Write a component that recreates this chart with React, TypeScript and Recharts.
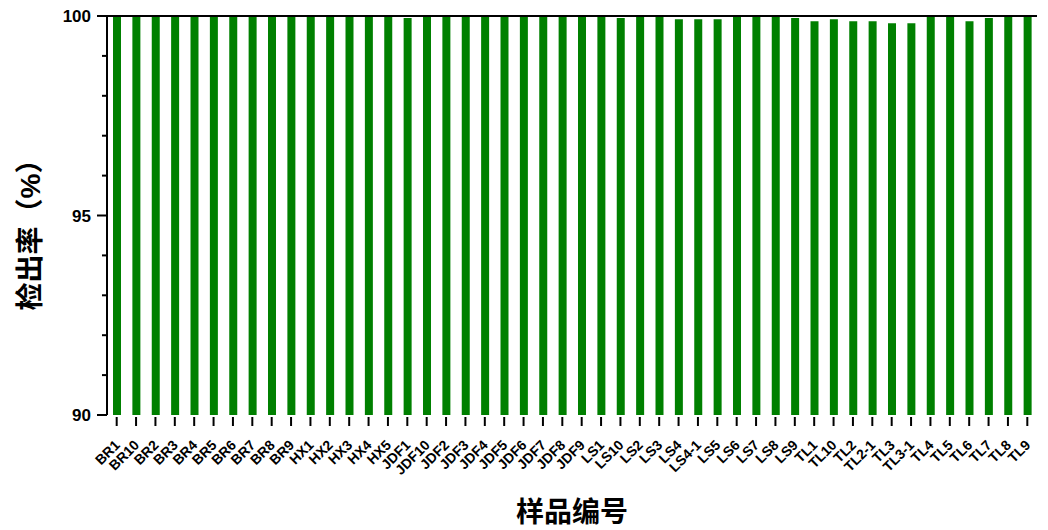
import React from 'react';
import { BarChart, Bar, XAxis, YAxis, ReferenceLine } from 'recharts';

const samples = [
  'BR1', 'BR10', 'BR2', 'BR3', 'BR4', 'BR5', 'BR6', 'BR7', 'BR8', 'BR9',
  'HX1', 'HX2', 'HX3', 'HX4', 'HX5',
  'JDF1', 'JDF10', 'JDF2', 'JDF3', 'JDF4', 'JDF5', 'JDF6', 'JDF7', 'JDF8', 'JDF9',
  'LS1', 'LS10', 'LS2', 'LS3', 'LS4', 'LS4-1', 'LS5', 'LS6', 'LS7', 'LS8', 'LS9',
  'TL1', 'TL10', 'TL2', 'TL2-1', 'TL3', 'TL3-1', 'TL4', 'TL5', 'TL6', 'TL7', 'TL8', 'TL9',
];

const detectionRate = [
  100, 100, 100, 100, 100, 100, 100, 100, 100, 100,
  100, 100, 100, 100, 100,
  99.95, 100, 100, 100, 100, 100, 100, 100, 100, 100,
  100, 99.95, 100, 100, 99.92, 99.92, 99.92, 100, 100, 100, 99.95,
  99.87, 99.92, 99.87, 99.87, 99.82, 99.82, 100, 100, 99.87, 99.95, 100, 100,
];

const yTicks = [90, 91, 92, 93, 94, 95, 96, 97, 98, 99, 100];
const yLabelTicks = [90, 95, 100];

const data = samples.map((name, i) => ({ name, rate: detectionRate[i] }));

const FONT = '"Liberation Sans", Arial, "Noto Sans CJK SC", sans-serif';

const XTick = (props: any) => {
  const { x, y, payload } = props;
  return (
    <g>
      <line x1={x} x2={x} y1={y + 2} y2={y + 11} stroke="#000" strokeWidth={2} />
      <text
        x={x + 4}
        y={y + 31}
        textAnchor="end"
        transform={`rotate(-45, ${x + 4}, ${y + 31})`}
        fontSize={14}
        fontWeight="bold"
        fontFamily={FONT}
        fill="#000"
      >
        {payload.value}
      </text>
    </g>
  );
};

const YTick = (props: any) => {
  const { x, y, payload } = props;
  const major = yLabelTicks.includes(payload.value);
  return (
    <g>
      <line x1={x} x2={x - (major ? 10 : 5)} y1={y} y2={y} stroke="#000" strokeWidth={2} />
      {major && (
        <text
          x={x - 16}
          y={y}
          dy="0.36em"
          textAnchor="end"
          fontSize={17}
          fontWeight="bold"
          fontFamily={FONT}
          fill="#000"
        >
          {payload.value}
        </text>
      )}
    </g>
  );
};

export default function App() {
  return (
    <div style={{ position: 'absolute', left: 0, top: 0, width: 1048, height: 530, background: '#fff' }}>
      <BarChart
        width={1048}
        height={530}
        data={data}
        margin={{ top: 16, right: 11, left: 47, bottom: 0 }}
        barCategoryGap={0}
      >
        <XAxis
          dataKey="name"
          interval={0}
          height={115}
          axisLine={false}
          tickLine={false}
          tickSize={0}
          tickMargin={0}
          tick={<XTick />}
          label={() => (
            <text x={572} y={522} textAnchor="middle" fontSize={28} fontWeight="bold" fontFamily={FONT} fill="#000">
              样品编号
            </text>
          )}
        />
        <YAxis
          yAxisId="left"
          width={60}
          domain={[90, 100]}
          ticks={yTicks}
          interval={0}
          allowDataOverflow
          axisLine={{ stroke: '#000', strokeWidth: 2 }}
          tickLine={false}
          tickSize={0}
          tickMargin={0}
          tick={<YTick />}
          label={() => (
            <text
              x={30}
              y={228}
              textAnchor="middle"
              dominantBaseline="central"
              transform="rotate(-90, 30, 228)"
              fontSize={28}
              fontWeight="bold"
              fontFamily={FONT}
              fill="#000"
            >
              检出率（%）
            </text>
          )}
        />
        <YAxis
          yAxisId="right"
          orientation="right"
          width={0}
          domain={[90, 100]}
          tick={false}
          tickLine={false}
          axisLine={{ stroke: '#000', strokeWidth: 2 }}
        />
        <Bar yAxisId="left" dataKey="rate" fill="#008000" barSize={8} isAnimationActive={false} />
        <ReferenceLine yAxisId="left" y={100} stroke="#000" strokeWidth={2} ifOverflow="extendDomain" />
      </BarChart>
    </div>
  );
}
